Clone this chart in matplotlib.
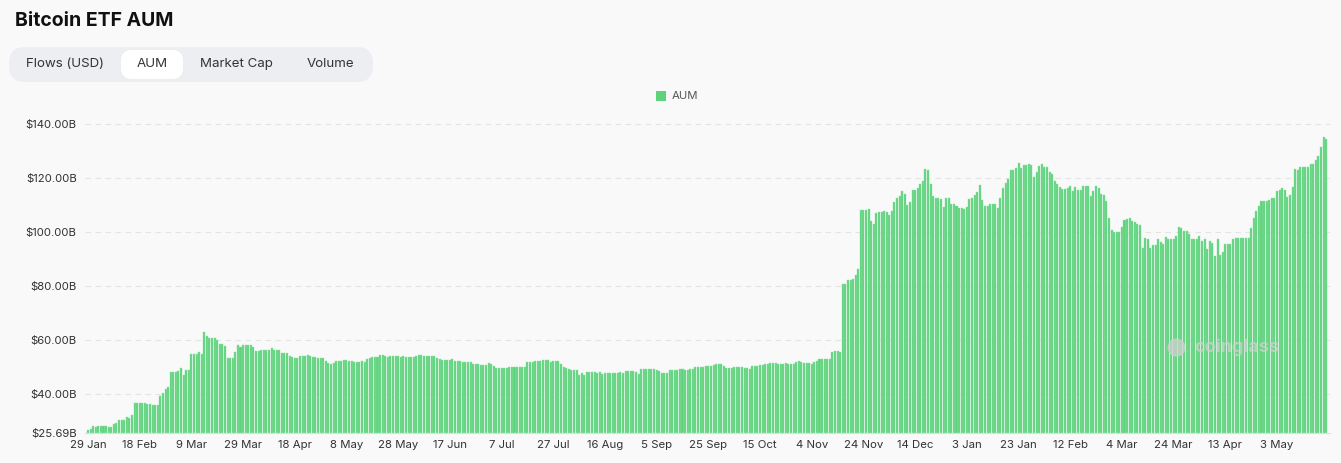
import matplotlib
matplotlib.use("Agg")
import matplotlib.pyplot as plt
from matplotlib.patches import FancyBboxPatch, Rectangle
import numpy as np
import pandas as pd

plt.rcParams['font.family'] = ['Inter', 'DejaVu Sans']

# daily Bitcoin ETF AUM, billions USD (29 Jan 2024 - 31 Dec 2024)
aum_2024 = [
    26.7, 27.2, 28.1, 27.9, 28.1, 28.3, 28.3, 28.3, 27.8, 28.0,
    29.0, 29.5, 30.4, 30.4, 30.4, 31.6, 31.1, 32.2, 36.9, 36.9,
    36.9, 36.9, 36.8, 36.3, 36.3, 35.9, 35.9, 35.9, 39.3, 40.5,
    41.8, 42.7, 48.3, 48.3, 48.3, 48.6, 49.9, 47.0, 48.9, 48.9,
    55.1, 55.1, 55.1, 55.8, 55.1, 63.1, 61.5, 60.9, 60.9, 60.9,
    60.0, 58.5, 58.5, 57.9, 53.3, 53.3, 53.3, 55.5, 58.1, 57.5,
    58.1, 58.1, 58.1, 58.1, 57.5, 55.9, 55.9, 56.5, 56.3, 56.3,
    56.3, 57.3, 56.3, 56.3, 56.4, 55.3, 55.3, 55.3, 54.1, 53.7,
    53.3, 53.6, 54.0, 54.1, 54.2, 54.4, 54.2, 53.8, 53.8, 53.3,
    53.3, 53.3, 52.3, 51.7, 51.2, 51.6, 52.2, 52.2, 52.2, 52.7,
    52.6, 52.3, 52.3, 51.9, 51.9, 51.9, 52.5, 52.0, 53.2, 53.6,
    53.7, 53.7, 53.7, 54.4, 54.4, 54.3, 53.7, 54.3, 54.3, 54.3,
    54.3, 53.8, 54.1, 53.8, 53.8, 53.8, 53.8, 54.2, 54.4, 54.6,
    54.3, 54.1, 54.1, 54.1, 54.1, 53.3, 53.2, 52.7, 52.6, 52.6,
    52.6, 53.0, 52.2, 52.2, 52.3, 52.1, 52.1, 52.1, 51.9, 51.4,
    51.1, 51.1, 50.7, 50.7, 50.7, 51.6, 51.1, 50.6, 49.6, 49.6,
    49.6, 49.6, 49.6, 50.0, 50.0, 50.0, 50.0, 50.0, 50.0, 50.0,
    51.9, 51.9, 51.9, 52.5, 52.5, 52.5, 52.8, 52.8, 52.8, 51.9,
    52.5, 52.5, 52.5, 51.4, 50.1, 49.9, 49.5, 49.1, 49.1, 49.1,
    47.3, 47.9, 47.3, 48.4, 48.4, 48.4, 48.4, 47.8, 48.3, 47.5,
    48.0, 48.0, 48.0, 48.0, 47.8, 47.8, 48.4, 48.0, 48.8, 48.8,
    48.8, 48.6, 48.4, 47.7, 49.5, 49.5, 49.5, 49.5, 49.4, 49.3,
    49.1, 48.6, 47.9, 47.9, 47.9, 48.9, 48.9, 48.9, 49.1, 49.5,
    49.5, 49.1, 48.9, 49.5, 49.5, 50.2, 50.2, 50.2, 50.2, 50.6,
    50.6, 50.5, 50.7, 51.1, 51.1, 51.1, 50.4, 49.9, 49.6, 49.6,
    50.1, 50.1, 50.1, 50.1, 49.9, 49.7, 49.5, 50.4, 50.4, 50.5,
    51.0, 51.0, 51.2, 51.2, 51.5, 51.5, 51.5, 51.4, 51.4, 51.4,
    51.6, 51.1, 51.1, 51.1, 51.8, 52.5, 52.0, 51.7, 51.7, 51.7,
    51.4, 51.8, 52.3, 53.0, 53.2, 53.2, 53.2, 53.2, 55.6, 56.2,
    56.2, 55.6, 81.0, 81.0, 82.2, 82.2, 82.5, 84.1, 86.3, 108.1,
    108.1, 108.1, 108.5, 104.1, 103.1, 107.2, 107.5, 107.5, 107.8, 107.5,
    106.5, 107.8, 111.0, 112.5, 113.5, 115.1, 114.0, 110.0, 111.2, 115.8,
    115.6, 116.4, 117.9, 118.8, 123.3, 123.0, 117.8, 113.5, 112.8, 112.8,
    112.1, 109.4, 112.8, 112.5, 110.4, 110.4, 109.6, 109.1,
]

# 1 Jan 2025 - 22 May 2025
aum_2025 = [
    108.9, 108.6, 109.4, 112.2, 112.8, 113.7, 114.8, 117.4, 111.8, 109.8,
    109.8, 110.4, 110.4, 110.4, 108.8, 112.5, 116.2, 118.3, 119.6, 123.0,
    123.0, 123.6, 125.7, 123.6, 124.8, 124.8, 125.4, 124.7, 120.5, 122.2,
    124.6, 125.1, 124.3, 124.3, 122.2, 121.5, 119.0, 117.7, 116.8, 115.9,
    115.9, 116.4, 117.0, 115.3, 116.8, 115.8, 115.8, 117.0, 117.0, 117.0,
    113.3, 115.4, 117.0, 116.2, 114.1, 113.8, 111.6, 105.4, 100.7, 100.1,
    100.1, 100.1, 102.0, 104.4, 104.9, 105.1, 104.2, 103.6, 103.0, 102.6,
    94.3, 97.9, 97.3, 94.2, 95.1, 95.1, 97.4, 96.2, 95.6, 98.1,
    97.5, 97.6, 97.6, 98.5, 102.0, 101.7, 100.6, 100.5, 99.5, 97.6,
    97.3, 97.3, 98.5, 96.7, 97.3, 93.7, 96.9, 96.0, 91.1, 97.4,
    91.7, 92.5, 95.8, 95.8, 95.6, 97.3, 97.7, 97.7, 97.7, 97.7,
    97.7, 97.7, 101.7, 105.4, 107.9, 109.6, 111.6, 111.5, 111.5, 111.9,
    112.5, 112.5, 115.3, 115.6, 116.4, 115.8, 113.1, 113.8, 116.8, 123.3,
    123.0, 124.3, 124.2, 124.2, 124.2, 125.1, 125.1, 126.9, 128.2, 131.6,
    135.1, 134.6,
]

aum = np.array(aum_2024 + aum_2025)
dates = pd.date_range("2024-01-29", periods=len(aum), freq="D")

tick_labels = ["29 Jan", "18 Feb", "9 Mar", "29 Mar", "18 Apr", "8 May", "28 May",
               "17 Jun", "7 Jul", "27 Jul", "16 Aug", "5 Sep", "25 Sep", "15 Oct",
               "4 Nov", "24 Nov", "14 Dec", "3 Jan", "23 Jan", "12 Feb", "4 Mar",
               "24 Mar", "13 Apr", "3 May"]
y_ticks = [25.69, 40, 60, 80, 100, 120, 140]
tabs = ["Flows (USD)", "AUM", "Market Cap", "Volume"]

W, H = 1341, 463
BG = "#f9f9f9"
GREEN = "#5ed27d"

fig = plt.figure(figsize=(W / 100, H / 100), dpi=100, facecolor=BG)

def fx(x):
    return x / W

def fy(y):
    return 1 - y / H

# plot area
ax = fig.add_axes([fx(85), fy(433), fx(1330) - fx(85), fy(116) - fy(433)])
ax.set_facecolor(BG)
xs = np.arange(len(aum))
ax.bar(xs, aum - y_ticks[0], bottom=y_ticks[0], width=0.78, color=GREEN,
       edgecolor="#8fe3a5", linewidth=0.3)
ax.set_xlim(-1.16, 480.5)
ax.set_ylim(y_ticks[0], 143)

ax.set_yticks(y_ticks)
ax.set_yticklabels(["$%.2fB" % v for v in y_ticks])
ax.set_xticks(np.arange(0, 20 * len(tick_labels), 20))
ax.set_xticklabels(tick_labels)
ax.tick_params(axis="both", length=0, labelsize=8.2, colors="#333333")
ax.tick_params(axis="y", pad=6)
ax.tick_params(axis="x", pad=5)
for t in y_ticks[1:]:
    ax.axhline(t, color="#e4e4e4", linewidth=0.8, linestyle=(0, (5, 4)), zorder=0)
for s in ["top", "right", "left"]:
    ax.spines[s].set_visible(False)
ax.spines["bottom"].set_color("#dcdcdc")
ax.spines["bottom"].set_linewidth(0.8)

# watermark
ax.text(0.925, 0.27, "coinglass", transform=ax.transAxes, fontsize=13,
        fontweight="bold", color="#d0d0d0", alpha=0.75, ha="center", va="center")
ax.plot([0.876], [0.27], transform=ax.transAxes, marker="o", markersize=12,
        color="#d0d0d0", alpha=0.75, zorder=5)

# title
fig.text(fx(15), fy(21), "Bitcoin ETF AUM", fontsize=14, fontweight="bold",
         color="#111111", ha="left", va="center")

# tab bar
fig.add_artist(FancyBboxPatch((fx(9), fy(82)), fx(364), fy(47) - fy(82),
                              boxstyle="round,pad=0,rounding_size=0.012",
                              transform=fig.transFigure, facecolor="#eceef2",
                              edgecolor="none", mutation_aspect=W / H))
fig.add_artist(FancyBboxPatch((fx(121), fy(79)), fx(62), fy(50) - fy(79),
                              boxstyle="round,pad=0,rounding_size=0.008",
                              transform=fig.transFigure, facecolor="white",
                              edgecolor="none", mutation_aspect=W / H))
for label, cx in zip(tabs, [65, 152, 236, 330]):
    fig.text(fx(cx), fy(64), label, fontsize=9.6, color="#333333",
             ha="center", va="center")

# legend
fig.add_artist(Rectangle((fx(656), fy(101)), fx(10), fy(91) - fy(101),
                         transform=fig.transFigure, facecolor=GREEN, edgecolor="none"))
fig.text(fx(672), fy(96), "AUM", fontsize=8.2, color="#555555", ha="left", va="center")

fig.savefig("out.png", dpi=100, facecolor=BG)
